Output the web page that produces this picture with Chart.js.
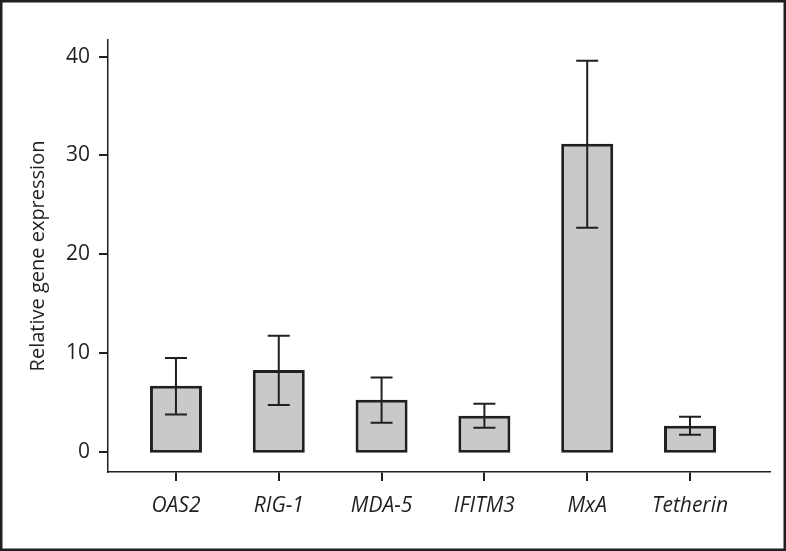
<!DOCTYPE html>
<html>
<head>
<meta charset="utf-8">
<title>Relative gene expression</title>
<script src="https://cdn.jsdelivr.net/npm/chart.js@4.4.1/dist/chart.umd.min.js"></script>
<style>
  html, body { margin: 0; padding: 0; background: #ffffff; }
  canvas { display: block; }
</style>
</head>
<body>
<canvas id="geneChart" width="786" height="551"></canvas>
<script>
// values
const genes = ["OAS2", "RIG-1", "MDA-5", "IFITM3", "MxA", "Tetherin"];
const meanExpr = [6.72, 8.30, 5.30, 3.69, 31.19, 2.68];
const errHigh = [9.52, 11.77, 7.56, 4.90, 39.57, 3.59];
const errLow = [3.82, 4.77, 2.98, 2.47, 22.70, 1.77];
const yTicks = [0, 10, 20, 30, 40];

const ink = "#231f20";

// draws the error bars (stem + two caps) from the scales
const errorBarPlugin = {
    id: "errorBars",
    afterDatasetsDraw(chart) {
        const { ctx, scales: { x, y } } = chart;
        ctx.save();
        ctx.strokeStyle = ink;
        ctx.lineWidth = 2;
        const capHalf = 11;
        genes.forEach((g, i) => {
            const px = x.getPixelForValue(i);
            const top = y.getPixelForValue(errHigh[i]);
            const bot = y.getPixelForValue(errLow[i]);
            ctx.beginPath();
            ctx.moveTo(px, top);
            ctx.lineTo(px, bot);
            ctx.moveTo(px - capHalf, top);
            ctx.lineTo(px + capHalf, top);
            ctx.moveTo(px - capHalf, bot);
            ctx.lineTo(px + capHalf, bot);
            ctx.stroke();
        });
        ctx.restore();
    }
};

// black frame round the whole picture
const framePlugin = {
    id: "frame",
    afterDraw(chart) {
        const ctx = chart.ctx;
        ctx.save();
        ctx.strokeStyle = ink;
        ctx.lineWidth = 2.5;
        ctx.strokeRect(1.25, 1.25, chart.width - 2.5, chart.height - 2.5);
        ctx.restore();
    }
};

document.addEventListener("DOMContentLoaded", () => {
    const canvas = document.getElementById("geneChart");

    new Chart(canvas, {
        type: "bar",
        data: {
            datasets: [{
                label: "Relative gene expression",
                data: meanExpr.map((v, i) => ({ x: i, y: v })),
                backgroundColor: "#c9c9cb",
                borderColor: ink,
                borderWidth: 3,
                borderSkipped: false,
                inflateAmount: 0,
                base: -0.06, // bars sit just on the zero line, not lifted off it
                barThickness: 52
            }]
        },
        options: {
            responsive: false,
            animation: false,
            layout: { padding: { left: 0, top: 40, right: 16, bottom: 0 } },
            plugins: {
                legend: { display: false },
                tooltip: { enabled: false }
            },
            scales: {
                x: {
                    type: "linear",
                    offset: false,
                    min: -0.661,
                    max: 5.778,
                    afterBuildTicks: axis => {
                        axis.ticks = genes.map((_, i) => ({ value: i }));
                    },
                    afterFit: axis => { axis.height = 79; },
                    border: { display: true, color: ink, width: 1.5 },
                    grid: {
                        offset: false,
                        drawOnChartArea: false,
                        drawTicks: true,
                        tickLength: 9,
                        color: ink,
                        lineWidth: 2
                    },
                    ticks: {
                        padding: 12,
                        color: ink,
                        maxRotation: 0,
                        autoSkip: false,
                        font: { family: "'Open Sans'", size: 21, style: "italic" },
                        callback: v => genes[v]
                    }
                },
                y: {
                    min: -2,
                    max: 41.67,
                    afterBuildTicks: axis => {
                        axis.ticks = yTicks.map(v => ({ value: v }));
                    },
                    afterFit: axis => { axis.width = 108; },
                    border: { display: true, color: ink, width: 1.5 },
                    grid: {
                        drawOnChartArea: false,
                        drawTicks: true,
                        tickLength: 9,
                        color: ink,
                        lineWidth: 2
                    },
                    ticks: {
                        padding: 9,
                        color: ink,
                        font: { family: "'Open Sans'", size: 21 }
                    },
                    title: {
                        display: true,
                        text: "Relative gene expression",
                        color: ink,
                        padding: { top: 26, bottom: 0 },
                        font: { family: "'Open Sans'", size: 20 }
                    }
                }
            }
        },
        plugins: [errorBarPlugin, framePlugin]
    });
});
</script>
</body>
</html>
